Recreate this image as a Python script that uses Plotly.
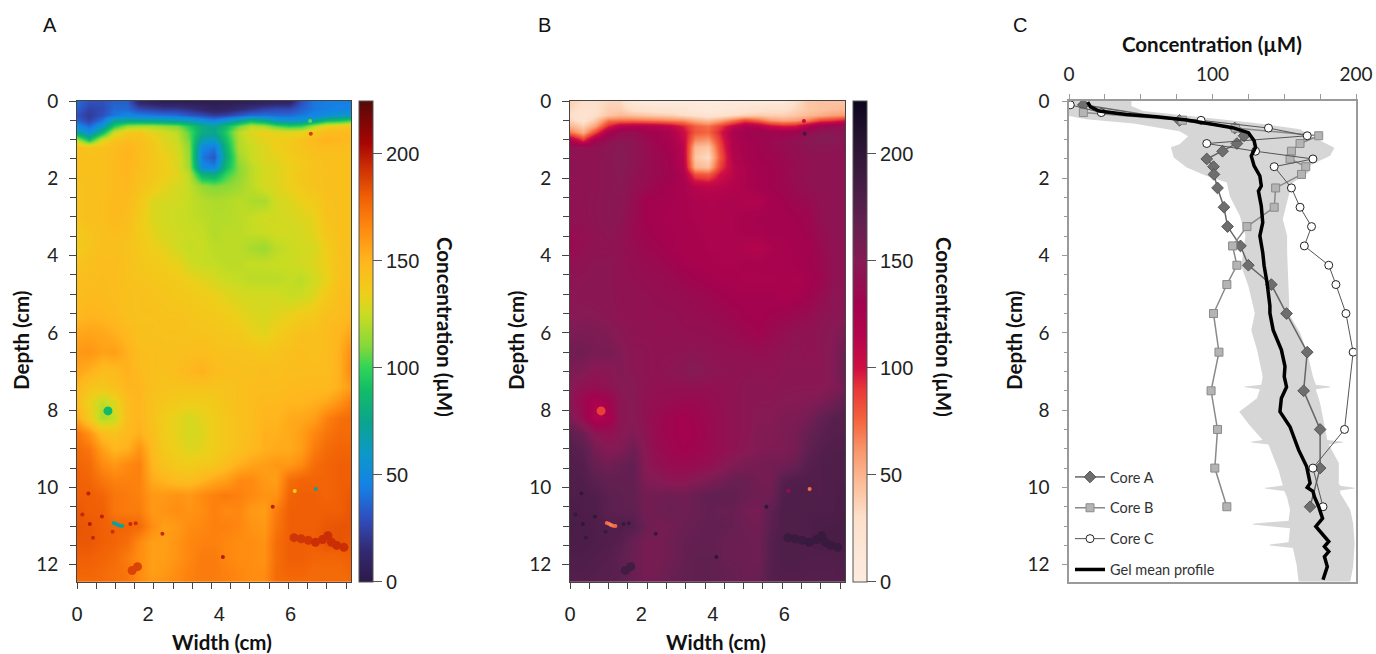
import plotly.graph_objects as go


# -----------------------------
# Gel image, panels A and B (uM)
# -----------------------------
WIDTH_CM = [0, 0.35, 0.7, 1.05, 1.4, 1.75, 2.1, 2.45, 2.8, 3.15, 3.5, 3.85,
            4.2, 4.55, 4.9, 5.25, 5.6, 5.95, 6.3, 6.65, 7.0, 7.35, 7.7]
GEL_DEPTH = [0.03, 0.2, 0.35, 0.5, 0.65, 0.8, 1.0, 1.2, 1.45, 1.7, 1.9, 2.2, 2.6,
             3.0, 3.4, 3.8, 4.2, 4.6, 5.0, 5.5, 6.0, 6.5, 7.0, 7.4, 7.8, 8.2, 8.6,
             9.0, 9.4, 9.8, 10.2, 10.6, 11.0, 11.4, 11.8, 12.2, 12.44]
GEL_CONC = [
    [38, 30, 30, 35, 35, 12, 8, 5, 5, 4, 4, 3, 4, 5, 6, 8, 10, 10, 30, 42, 44, 44, 44],
    [35, 25, 28, 38, 38, 28, 25, 22, 22, 18, 12, 8, 10, 15, 20, 25, 28, 28, 35, 42, 44, 46, 48],
    [30, 22, 30, 42, 48, 45, 42, 40, 38, 32, 28, 22, 25, 32, 38, 40, 38, 38, 42, 48, 52, 58, 60],
    [35, 25, 40, 70, 72, 72, 70, 68, 65, 62, 52, 45, 55, 70, 85, 75, 60, 55, 58, 68, 85, 90, 98],
    [50, 38, 58, 95, 115, 118, 118, 115, 110, 96, 78, 72, 88, 108, 122, 118, 105, 98, 100, 120, 135, 138, 142],
    [70, 52, 85, 125, 138, 140, 132, 128, 122, 104, 80, 76, 96, 122, 130, 135, 132, 130, 132, 140, 146, 148, 146],
    [122, 92, 130, 142, 146, 144, 138, 130, 125, 108, 65, 60, 90, 120, 128, 132, 135, 138, 142, 148, 152, 150, 146],
    [144, 142, 143, 146, 150, 146, 140, 132, 128, 112, 48, 42, 85, 120, 125, 130, 135, 138, 142, 145, 147, 146, 144],
    [144, 144, 144, 147, 151, 146, 140, 135, 130, 114, 42, 32, 80, 116, 125, 130, 132, 136, 140, 143, 144, 144, 144],
    [144, 144, 144, 147, 150, 146, 140, 136, 130, 116, 50, 45, 88, 112, 122, 128, 130, 134, 138, 142, 144, 144, 144],
    [144, 144, 144, 147, 150, 144, 140, 136, 132, 122, 82, 78, 100, 112, 122, 128, 130, 134, 140, 143, 144, 144, 144],
    [143, 144, 144, 147, 149, 143, 138, 132, 128, 124, 114, 110, 112, 116, 122, 128, 130, 134, 138, 142, 144, 144, 144],
    [143, 144, 145, 148, 147, 140, 130, 128, 127, 124, 121, 119, 120, 122, 119, 118, 127, 130, 134, 137, 143, 144, 144],
    [143, 144, 145, 148, 146, 138, 130, 127, 125, 124, 122, 120, 120, 122, 124, 127, 127, 128, 130, 133, 142, 144, 144],
    [138, 142, 144, 146, 144, 137, 132, 128, 127, 125, 124, 120, 122, 122, 124, 125, 127, 127, 128, 132, 140, 144, 144],
    [136, 142, 144, 144, 143, 139, 135, 132, 127, 124, 125, 122, 122, 122, 118, 115, 122, 125, 127, 128, 136, 144, 143],
    [142, 144, 146, 146, 143, 140, 138, 136, 133, 127, 124, 124, 122, 122, 124, 124, 125, 125, 127, 130, 135, 143, 144],
    [145, 146, 147, 146, 143, 142, 140, 139, 137, 134, 131, 128, 125, 124, 122, 122, 122, 124, 122, 127, 133, 143, 145],
    [146, 147, 147, 146, 144, 143, 142, 141, 139, 138, 136, 134, 131, 128, 127, 127, 127, 124, 125, 130, 138, 145, 146],
    [148, 150, 149, 147, 144, 143, 143, 142, 142, 141, 139, 138, 136, 133, 130, 128, 131, 133, 136, 138, 144, 146, 148],
    [155, 156, 155, 152, 148, 144, 144, 143, 143, 142, 142, 141, 140, 138, 134, 131, 136, 140, 144, 144, 146, 150, 156],
    [160, 161, 157, 158, 152, 146, 145, 144, 144, 145, 146, 144, 143, 143, 142, 140, 142, 144, 146, 144, 146, 152, 164],
    [156, 152, 146, 147, 152, 147, 145, 144, 146, 149, 152, 147, 145, 144, 144, 146, 144, 146, 146, 146, 146, 152, 166],
    [150, 142, 140, 144, 150, 150, 144, 142, 142, 142, 142, 142, 142, 144, 146, 146, 146, 147, 148, 148, 148, 152, 160],
    [146, 134, 122, 130, 146, 150, 143, 140, 138, 136, 136, 138, 142, 144, 146, 148, 148, 150, 150, 152, 155, 162, 170],
    [155, 138, 118, 124, 146, 150, 143, 136, 132, 128, 132, 136, 140, 144, 146, 150, 150, 154, 155, 158, 168, 174, 176],
    [172, 162, 146, 142, 148, 152, 145, 136, 132, 128, 130, 136, 140, 144, 146, 152, 152, 154, 158, 166, 172, 176, 176],
    [176, 172, 158, 150, 152, 162, 148, 138, 134, 130, 132, 136, 140, 144, 148, 152, 154, 154, 158, 170, 176, 178, 178],
    [178, 176, 165, 160, 165, 168, 150, 142, 138, 136, 138, 140, 146, 152, 156, 158, 160, 160, 165, 175, 178, 180, 180],
    [180, 178, 172, 168, 168, 168, 154, 150, 146, 146, 150, 155, 158, 165, 165, 160, 158, 175, 178, 178, 178, 180, 180],
    [180, 180, 178, 172, 170, 168, 160, 160, 162, 160, 165, 168, 170, 168, 165, 162, 162, 178, 180, 180, 178, 180, 182],
    [182, 180, 180, 172, 170, 170, 160, 162, 164, 162, 164, 168, 165, 166, 160, 158, 170, 180, 180, 180, 180, 180, 183],
    [183, 182, 180, 178, 178, 176, 164, 158, 160, 164, 166, 168, 168, 166, 162, 160, 172, 180, 180, 180, 182, 183, 183],
    [182, 182, 180, 178, 175, 165, 158, 158, 162, 166, 168, 168, 166, 164, 164, 162, 175, 180, 180, 180, 183, 183, 182],
    [180, 180, 178, 176, 170, 164, 158, 158, 162, 166, 170, 170, 166, 164, 164, 162, 175, 180, 180, 178, 178, 178, 180],
    [178, 178, 176, 174, 172, 165, 158, 160, 164, 168, 170, 170, 168, 166, 164, 164, 176, 178, 178, 176, 176, 176, 178],
    [175, 176, 176, 174, 172, 165, 160, 162, 165, 168, 170, 170, 168, 166, 164, 164, 175, 176, 176, 176, 176, 176, 176],
]

# small holes and burrow features that the grid is too coarse for
SPOT_X = [1.03, 1.09, 1.15, 1.21, 1.27, 6.71, 6.12, 0.32, 0.36, 0.7, 1.5, 0.15, 0.45, 1.0, 1.65, 2.4, 4.1, 5.5, 6.55, 6.57]
SPOT_Y = [10.92, 10.94, 10.97, 10.99, 11.0, 10.04, 10.09, 10.16, 10.95, 10.75, 10.95, 10.7, 11.3, 11.15, 10.93, 11.2, 11.8, 10.5, 0.52, 0.85]
SPOT_CONC = [74, 70, 66, 70, 74, 72, 135, 198, 200, 198, 195, 196, 196, 194, 194, 195, 200, 198, 105, 190]
BLOB_X = [0.87, 1.55, 1.7, 6.1, 6.3, 6.5, 6.7, 6.9, 7.05, 7.15, 7.3, 7.5]
BLOB_Y = [8.02, 12.15, 12.05, 11.3, 11.33, 11.37, 11.42, 11.35, 11.25, 11.42, 11.5, 11.55]
BLOB_CONC = [88, 188, 188, 192, 192, 192, 194, 194, 194, 194, 194, 194]

# -----------------------------
# Panel C, core profiles
# -----------------------------
CORE_A_DEPTH = [0.1, 0.5, 0.7, 0.9, 1.1, 1.3, 1.5, 1.7, 1.9, 2.25, 2.75, 3.25, 3.75,
                4.25, 4.75, 5.5, 6.5, 7.5, 8.5, 9.5, 10.5]
CORE_A_CONC = [10, 77, 115.5, 122, 117, 107, 96, 100.7, 101, 103.5, 108, 110.5, 119.5,
               125, 141, 151.6, 166, 163.5, 175, 175, 168]
CORE_B_DEPTH = [0.3, 0.5, 0.7, 0.9, 1.1, 1.3, 1.5, 1.7, 1.9, 2.25, 2.75, 3.25, 3.75,
                4.25, 4.75, 5.5, 6.5, 7.5, 8.5, 9.5, 10.5]
CORE_B_CONC = [10, 79, 116, 174, 161, 155, 154, 165, 162, 144, 143, 124, 114,
               117, 110, 100.7, 104.5, 99, 103.5, 101.6, 110]
CORE_C_DEPTH = [0.1, 0.3, 0.5, 0.7, 0.9, 1.1, 1.3, 1.5, 1.7, 2.25, 2.75, 3.25, 3.75,
                4.25, 4.75, 5.5, 6.5, 8.5, 9.5, 10.5]
CORE_C_CONC = [0.9, 22.5, 92, 139, 166, 96, 130, 170, 143, 155, 161, 169, 164,
               181, 186, 193, 198, 192, 170, 177]

MEAN_DEPTH = [0.03, 0.15, 0.26, 0.35, 0.41, 0.49, 0.6, 0.69, 0.82, 1.03, 1.2, 1.42, 1.68,
              1.94, 2.2, 2.33, 2.72, 3.15, 3.49, 3.92, 4.27, 4.7, 5.3, 5.49, 5.93, 6.44,
              6.87, 7.13, 7.4, 7.69, 8.04, 8.43, 9.03, 9.46, 9.89, 10.0, 10.1, 10.24, 10.5,
              10.8, 11.01, 11.27, 11.4, 11.53, 11.66, 11.79, 12.05, 12.39]
MEAN_CONC = [13, 15, 21, 40, 61, 82, 100, 114, 125, 129, 130, 127, 129,
             133, 134, 132, 134, 135, 133, 135, 136, 138, 140, 140, 142.3, 148,
             150.5, 150, 151.6, 148, 147, 154, 160, 165.6, 168, 166, 170, 171, 174,
             176.7, 172, 178, 181, 178, 181, 178, 180, 177]

# spread of the gel around its mean, with the thin spikes on both edges
BAND_HIGH_DEPTH = [0, 0.13, 0.26, 0.41, 0.56, 0.73, 0.91, 1.21, 1.42, 1.68, 1.85, 2.11, 2.46,
                   3.06, 3.49, 3.92, 4.7, 5.3, 5.49, 6.0, 6.5, 7.13, 7.34, 7.39, 7.41, 7.46,
                   7.82, 8.43, 8.77, 8.82, 8.84, 8.89, 9.37, 9.9, 9.96, 10.01, 10.03, 10.08,
                   10.15, 10.58, 10.93, 11.45, 12.05, 12.44]
BAND_HIGH = [43.5, 43.5, 51.6, 91, 128, 161, 169, 185, 182, 167, 167, 156, 153,
             149, 152, 152, 153, 153.5, 153, 161, 166, 170, 172, 182, 182, 172,
             175, 178, 180, 191, 191, 181, 188, 188, 189, 199, 199, 189,
             189, 196, 198, 199, 198, 196]
BAND_LOW_DEPTH = [0, 0.39, 0.47, 0.58, 0.78, 0.91, 1.12, 1.2, 1.46, 1.72, 1.94, 2.11, 2.46,
                  2.97, 3.49, 4.27, 4.79, 5.49, 5.93, 6.44, 7.13, 7.34, 7.39, 7.41, 7.46,
                  7.69, 8.04, 8.4, 8.77, 8.82, 8.84, 8.89, 9.55, 9.95, 10.01, 10.03, 10.09,
                  10.26, 10.58, 10.86, 10.94, 10.96, 11.06, 11.42, 11.48, 11.5, 11.57, 12.0, 12.44]
BAND_LOW = [0, 0, 12, 45, 77, 83, 77, 71, 73, 82, 96, 110, 112,
            119, 123, 120, 125, 129.5, 127, 131, 135, 134, 122.5, 122.5, 133,
            131, 118.6, 126, 135, 127, 127, 139, 146, 149, 136.5, 136.5, 150,
            152, 154, 153, 128, 128, 154, 153, 140, 140, 156, 158.6, 160]

# -----------------------------
# Ticks and colours
# -----------------------------
BAR_TICKS = [0, 50, 100, 150, 200]
CONC_MAX = 224.8

JET_LIKE = [
    [0, "#2d1a4a"], [15, "#332a73"], [30, "#2f4fbe"], [45, "#1482e6"], [60, "#0c98c8"],
    [75, "#0aa58c"], [90, "#12bd66"], [100, "#2fd45a"], [110, "#84d83a"], [125, "#c9dc22"],
    [135, "#efce1a"], [150, "#ffb61e"], [165, "#ff8a10"], [180, "#f05f05"], [195, "#c82a05"],
    [205, "#a80505"], [224.8, "#560808"],
]
ROCKET_LIKE = [
    [0, "#fdece0"], [30, "#fde0cb"], [45, "#fcc09c"], [60, "#fa9a70"], [75, "#f4663f"], [90, "#e83838"],
    [100, "#cf0f42"], [115, "#b4044d"], [130, "#a2034f"], [150, "#861a55"], [170, "#5f2050"],
    [190, "#3e1b42"], [205, "#2a1433"], [224.8, "#0c0620"],
]

AXIS_DARK = "#444444"
AXIS_GREY = "#9a9a9a"
TEXT = "#222222"
SANS = "Liberation Sans"
LABEL = "Lato"

FIG_W = 1376
FIG_H = 654


def xdom(left, right):
    return [left / FIG_W, right / FIG_W]


def ydom(top, bottom):
    return [1 - bottom / FIG_H, 1 - top / FIG_H]


def scale(stops):
    return [[v / CONC_MAX, c] for v, c in stops]


def colorbar(left):
    return dict(
        x=left / FIG_W, xanchor="left", xpad=0,
        y=1 - 581.7 / FIG_H, yanchor="bottom", ypad=0,
        lenmode="pixels", len=480.7,
        thicknessmode="pixels", thickness=14,
        outlinecolor="#555555", outlinewidth=1,
        tickmode="array", tickvals=BAR_TICKS,
        ticks="outside", ticklen=9, tickwidth=1, tickcolor="#555555",
        tickfont=dict(family=SANS, size=20, color=TEXT),
    )


def gel_xaxis(left, right):
    return dict(
        domain=xdom(left, right), range=[0, 7.7],
        tickmode="array", tickvals=[0, 2, 4, 6], ticks="", ticklabelstandoff=14,
        minor=dict(tick0=0, dtick=0.54, ticks="outside", ticklen=6, tickcolor=AXIS_DARK, showgrid=False),
        tickfont=dict(family=SANS, size=20, color=TEXT),
        showgrid=False, zeroline=False, showline=True, linecolor=AXIS_DARK, mirror=True,
    )


def depth_yaxis():
    return dict(
        domain=ydom(101, 581.7), range=[12.44, 0],
        tickmode="array", tickvals=[0, 2, 4, 6, 8, 10, 12], ticks="outside", ticklen=7,
        tickcolor=AXIS_DARK, ticklabelstandoff=7,
        minor=dict(dtick=0.5, ticks="outside", ticklen=6, tickcolor=AXIS_DARK, showgrid=False),
        tickfont=dict(family=LABEL, size=19, color=TEXT),
        showgrid=False, zeroline=False, showline=True, linecolor=AXIS_DARK, mirror=True,
    )


fig = go.Figure()

# -----------------------------
# A and B: same gel, two colour maps
# -----------------------------
for xa, ya, ca in [("x", "y", "coloraxis"), ("x2", "y2", "coloraxis2")]:
    fig.add_trace(go.Heatmap(
        x=WIDTH_CM, y=GEL_DEPTH, z=GEL_CONC, coloraxis=ca, xaxis=xa, yaxis=ya,
        zsmooth="best", hoverinfo="skip",
    ))
    fig.add_trace(go.Scatter(
        x=SPOT_X, y=SPOT_Y, mode="markers", xaxis=xa, yaxis=ya, showlegend=False,
        marker=dict(color=SPOT_CONC, coloraxis=ca, size=4, line=dict(width=0)),
    ))
    fig.add_trace(go.Scatter(
        x=BLOB_X, y=BLOB_Y, mode="markers", xaxis=xa, yaxis=ya, showlegend=False,
        marker=dict(color=BLOB_CONC, coloraxis=ca, size=9, line=dict(width=0)),
    ))

# -----------------------------
# C: profiles
# -----------------------------
fig.add_trace(go.Scatter(
    x=BAND_HIGH + BAND_LOW[::-1], y=BAND_HIGH_DEPTH + BAND_LOW_DEPTH[::-1],
    mode="lines", fill="toself", fillcolor="#d6d6d6", line=dict(width=0),
    xaxis="x3", yaxis="y3", showlegend=False, hoverinfo="skip",
))
fig.add_trace(go.Scatter(
    x=CORE_A_CONC, y=CORE_A_DEPTH, mode="lines+markers", name="Core A", legendgroup="a",
    line=dict(color="#666666", width=1.5),
    marker=dict(symbol="diamond", size=9, color="#6e6e6e", line=dict(color="#555555", width=1)),
    xaxis="x3", yaxis="y3",
))
fig.add_trace(go.Scatter(
    x=CORE_B_CONC, y=CORE_B_DEPTH, mode="lines+markers", name="Core B", legendgroup="b",
    line=dict(color="#8a8a8a", width=1.5),
    marker=dict(symbol="square", size=8, color="#b4b4b4", line=dict(color="#8a8a8a", width=1)),
    xaxis="x3", yaxis="y3",
))
fig.add_trace(go.Scatter(
    x=CORE_C_CONC, y=CORE_C_DEPTH, mode="lines+markers", name="Core C", legendgroup="c",
    line=dict(color="#555555", width=1),
    marker=dict(symbol="circle", size=8, color="white", line=dict(color="#222222", width=1)),
    xaxis="x3", yaxis="y3",
))
fig.add_trace(go.Scatter(
    x=MEAN_CONC, y=MEAN_DEPTH, mode="lines", name="Gel mean profile", legendgroup="d",
    line=dict(color="black", width=3.5),
    xaxis="x3", yaxis="y3",
))

# -----------------------------
# Layout
# -----------------------------
yaxis3 = depth_yaxis()
yaxis3.update(
    anchor="x3", linecolor=AXIS_GREY, tickcolor=AXIS_GREY, ticklen=5, linewidth=1.5,
    ticklabelstandoff=9,
)
yaxis3["minor"].update(tickcolor=AXIS_GREY, ticklen=3)

fig.update_layout(
    width=FIG_W, height=FIG_H,
    margin=dict(l=0, r=0, t=0, b=0, autoexpand=False),
    paper_bgcolor="white", plot_bgcolor="white",
    xaxis=dict(gel_xaxis(77, 351), anchor="y"),
    yaxis=dict(depth_yaxis(), anchor="x"),
    xaxis2=dict(gel_xaxis(570, 845), anchor="y2"),
    yaxis2=dict(depth_yaxis(), anchor="x2"),
    xaxis3=dict(
        domain=xdom(1069, 1356), range=[0, 200], anchor="y3", side="top",
        tickmode="array", tickvals=[0, 100, 200], ticks="outside", ticklen=5,
        tickcolor=AXIS_GREY, ticklabelstandoff=6,
        minor=dict(dtick=25, ticks="outside", ticklen=5, tickcolor=AXIS_GREY, showgrid=False),
        tickfont=dict(family=LABEL, size=19, color=TEXT),
        showgrid=False, zeroline=False, showline=True, linecolor=AXIS_GREY, linewidth=1.5, mirror=True,
    ),
    yaxis3=yaxis3,
    coloraxis=dict(cmin=0, cmax=CONC_MAX, colorscale=scale(JET_LIKE), colorbar=colorbar(359)),
    coloraxis2=dict(cmin=0, cmax=CONC_MAX, colorscale=scale(ROCKET_LIKE), colorbar=colorbar(853)),
    legend=dict(
        x=1070 / FIG_W, y=1 - 461 / FIG_H, xanchor="left", yanchor="top",
        bgcolor="rgba(0,0,0,0)", tracegroupgap=9, itemwidth=30,
        font=dict(family=LABEL, size=14.5, color="#333333"),
    ),
)

# panel letters and axis titles, placed in pixels
TITLES = [
    ("A", 50, 25, 0, SANS, 20, False),
    ("B", 544, 25, 0, SANS, 20, False),
    ("C", 1020, 25, 0, SANS, 20, False),
    ("Width (cm)", 222, 642, 0, LABEL, 20.5, True),
    ("Width (cm)", 716, 642, 0, LABEL, 20.5, True),
    ("Concentration (µM)", 1212, 44, 0, LABEL, 20.5, True),
    ("Depth (cm)", 21, 341, -90, LABEL, 20.5, True),
    ("Depth (cm)", 516, 341, -90, LABEL, 20.5, True),
    ("Depth (cm)", 1014, 341, -90, LABEL, 20.5, True),
    ("Concentration (µM)", 445, 327, 90, LABEL, 20.5, True),
    ("Concentration (µM)", 944, 327, 90, LABEL, 20.5, True),
]
for text, px, py, angle, family, size, bold in TITLES:
    fig.add_annotation(
        text=f"<b>{text}</b>" if bold else text,
        xref="paper", yref="paper", x=px / FIG_W, y=1 - py / FIG_H,
        xanchor="center", yanchor="middle", showarrow=False, textangle=angle,
        font=dict(family=family, size=size, color="#111111"),
    )

fig.write_html(
    "out.html",
    config={"displayModeBar": False},
    post_script="document.body.style.margin = '0';",
)
